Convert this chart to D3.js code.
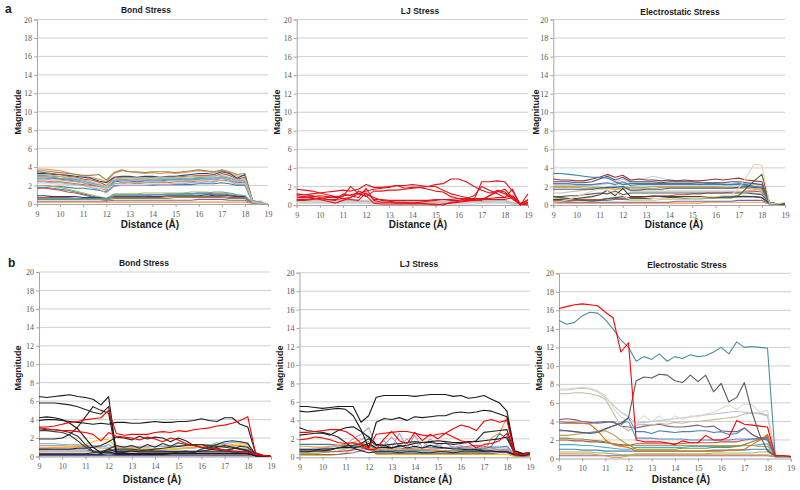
<!DOCTYPE html>
<html><head><meta charset="utf-8">
<script src="https://cdn.jsdelivr.net/npm/d3@7"></script>
<style>body{margin:0;background:#fff} svg{display:block}</style>
</head><body><svg id="c" width="800" height="490"></svg>
<script>
// distance samples (Å)
const distance = [9,9.33,9.67,10,10.33,10.67,11,11.33,11.67,12,12.33,12.67,13,13.33,13.67,14,14.33,14.67,15,15.33,15.67,16,16.33,16.67,17,17.33,17.67,18,18.33,18.67,19];
const xTicks = [9,10,11,12,13,14,15,16,17,18,19];
const yTicks = [0,2,4,6,8,10,12,14,16,18,20];

// ---- panel a: Bond Stress ----
const bondA = [
 [3.8,3.8,3.7,3.6,3.4,3.2,3.0,2.9,2.7,2.4, 3.3,3.6,3.5,3.4,3.3,3.4,3.3,3.4,3.3,3.4, 3.5,3.6,3.5,3.4,3.6,3.4,3.0,3.1,0.4,0.1,0],
 [3.3,3.3,3.2,3.2,3.1,3.0,2.9,2.8,2.5,2.3, 2.9,3.0,3.0,2.9,3.0,3.0,2.9,3.0,3.0,3.1, 3.2,3.3,3.3,3.2,3.5,3.3,2.8,3.2,0.3,0.1,0],
 [3.5,3.4,3.3,3.2,3.0,2.9,2.7,2.6,2.4,2.0, 2.8,2.9,2.9,2.8,2.8,2.9,2.8,2.9,2.9,3.0, 3.0,3.1,3.1,3.0,3.3,3.1,2.7,2.9,0.3,0.05,0],
 [3.0,3.0,2.9,2.8,2.7,2.6,2.5,2.3,2.1,1.8, 2.6,2.7,2.6,2.6,2.6,2.7,2.7,2.7,2.7,2.8, 2.8,2.9,2.8,2.8,3.0,2.8,2.5,2.6,0.3,0.05,0],
 [2.8,2.8,2.8,2.7,2.6,2.5,2.3,2.1,1.9,1.6, 2.4,2.5,2.5,2.4,2.5,2.5,2.5,2.6,2.6,2.6, 2.6,2.7,2.7,2.6,2.8,2.6,2.3,2.4,0.2,0.05,0],
 [3.1,3.1,3.0,3.0,2.8,2.7,2.5,2.3,2.0,1.5, 2.5,2.6,2.6,2.6,2.6,2.6,2.6,2.7,2.7,2.7, 2.7,2.8,2.8,2.8,2.9,2.8,2.6,2.7,0.2,0.05,0],
 [2.5,2.5,2.4,2.4,2.3,2.2,2.1,2.0,1.8,1.5, 2.2,2.3,2.3,2.2,2.3,2.3,2.3,2.3,2.4,2.4, 2.4,2.5,2.5,2.4,2.6,2.5,2.2,2.2,0.2,0.05,0],
 [2.7,2.7,2.6,2.6,2.5,2.4,2.3,2.2,2.0,1.7, 2.2,2.2,2.3,2.3,2.3,2.4,2.4,2.5,2.5,2.5, 2.6,2.6,2.7,2.7,2.8,2.6,2.4,2.5,0.2,0.3,0],
 [2.2,2.2,2.2,2.1,2.1,2.0,2.0,1.9,1.8,1.6, 2.0,2.1,2.1,2.1,2.1,2.2,2.2,2.2,2.3,2.3, 2.3,2.4,2.4,2.5,2.5,2.4,2.2,2.2,0.2,0.4,0],
 [2.0,2.0,1.9,1.9,1.8,1.7,1.7,1.6,1.5,1.3, 2.0,2.0,2.0,2.0,2.0,2.0,2.1,2.1,2.1,2.1, 2.1,2.2,2.2,2.2,2.3,2.2,2.0,2.0,0.2,0.05,0],
 [1.8,1.8,1.7,1.6,1.5,1.3,1.1,0.9,0.7,0.5, 1.0,1.0,1.0,1.0,1.0,1.0,1.0,1.1,1.1,1.1, 1.1,1.1,1.1,1.0,1.0,0.9,0.8,0.7,0.1,0.05,0],
 [1.7,1.7,1.6,1.5,1.3,1.2,1.0,0.8,0.6,0.4, 0.9,0.9,0.9,0.9,0.9,1.0,1.0,1.0,1.0,1.1, 1.1,1.2,1.2,1.1,1.1,1.0,0.9,0.8,0.1,0.05,0],
 [2.0,2.0,1.9,1.8,1.6,1.4,1.2,1.0,0.8,0.6, 1.1,1.1,1.1,1.1,1.2,1.2,1.2,1.2,1.2,1.2, 1.3,1.3,1.3,1.2,1.2,1.1,1.0,0.9,0.1,0.05,0],
 [0.9,0.9,0.8,0.8,0.8,0.8,0.7,0.7,0.7,0.6, 0.8,0.8,0.8,0.8,0.8,0.8,0.8,0.9,0.9,0.9, 0.9,0.9,1.0,0.9,0.9,0.9,0.8,0.8,0.1,0.05,0],
 [0.7,0.7,0.7,0.7,0.7,0.6,0.6,0.6,0.6,0.6, 0.7,0.7,0.7,0.7,0.7,0.7,0.7,0.8,0.8,0.8, 0.8,0.8,0.8,0.8,0.8,0.7,0.7,0.7,0.1,0.05,0],
 [0.5,0.5,0.5,0.5,0.5,0.5,0.5,0.5,0.5,0.4, 0.6,0.6,0.6,0.6,0.6,0.6,0.6,0.6,0.7,0.7, 0.7,0.7,0.7,0.7,0.7,0.6,0.6,0.6,0.1,0.05,0],
 [0.3,0.3,0.3,0.3,0.3,0.3,0.3,0.3,0.3,0.3, 0.4,0.4,0.4,0.4,0.4,0.4,0.4,0.4,0.4,0.4, 0.4,0.5,0.5,0.5,0.5,0.4,0.4,0.4,0.05,0.05,0],
 [0.2,0.2,0.2,0.2,0.2,0.2,0.2,0.2,0.2,0.2, 0.2,0.2,0.2,0.2,0.2,0.2,0.2,0.2,0.2,0.2, 0.2,0.2,0.2,0.2,0.2,0.2,0.2,0.2,0.05,0.05,0],
 [0.6,0.6,0.6,0.6,0.6,0.6,0.5,0.5,0.5,0.5, 0.9,0.9,0.9,0.9,0.9,1.0,1.0,1.0,1.0,1.1, 1.1,1.2,1.2,1.3,1.3,1.2,1.0,0.9,0.1,0.05,0],
 [3.6,3.6,3.5,3.4,3.3,3.2,3.1,3.1,3.2,2.6, 3.4,3.7,3.5,3.5,3.4,3.5,3.5,3.5,3.4,3.5, 3.6,3.7,3.6,3.5,3.7,3.5,3.2,3.3,0.4,0.1,0],
 [2.4,2.4,2.3,2.3,2.2,2.1,2.0,1.8,1.6,1.2, 1.9,2.0,2.0,2.0,2.0,2.1,2.1,2.1,2.2,2.2, 2.3,2.3,2.4,2.4,2.9,2.5,2.1,2.1,0.2,0.05,0],
 [3.2,3.2,3.1,3.0,2.9,2.8,2.6,2.4,2.2,1.9, 2.7,2.8,2.8,2.8,2.8,2.8,2.9,2.9,2.9,2.9, 3.0,3.0,3.0,3.0,3.1,2.9,2.6,2.7,0.3,0.05,0]
];
const bondAColors = ["#F79646","#1F497D","#C0504D","#9BBB59","#8064A2","#4BACC6","#E46C0A","#95B3D7","#D9D9D9","#31859C","#4F81BD","#C0504D","#9BBB59","#1F497D","#C0504D","#77933C","#8064A2","#F79646","#4BACC6","#948A54","#B3A2C7","#C4BD97"];

// ---- panel a: LJ Stress ----
const ljA = [
 [0.5,0.5,0.5,0.5,0.5,0.5,0.5,0.5,0.5,0.5, 0.4,0.4,0.4,0.4,0.4,0.4,0.4,0.4,0.4,0.4, 0.4,0.4,0.5,0.5,0.5,0.5,0.5,0.5,0.3,0.1,0.2],
 [0.4,0.4,0.4,0.4,0.4,0.4,0.4,0.4,0.4,0.4, 0.3,0.3,0.3,0.3,0.3,0.3,0.3,0.3,0.3,0.3, 0.3,0.3,0.3,0.3,0.4,0.4,0.4,0.4,0.2,0.1,0.1],
 [0.3,0.3,0.3,0.3,0.3,0.3,0.3,0.3,0.3,0.3, 0.2,0.2,0.2,0.2,0.2,0.2,0.2,0.2,0.2,0.2, 0.2,0.2,0.2,0.3,0.3,0.3,0.3,0.3,0.1,0.1,0.1],
 [0.6,0.6,0.6,0.6,0.6,0.5,0.5,0.5,0.4,0.4, 0.3,0.3,0.3,0.3,0.3,0.3,0.3,0.3,0.3,0.3, 0.3,0.3,0.4,0.4,0.4,0.4,0.5,0.5,0.2,0.1,0.1],
 [0.2,0.2,0.2,0.2,0.2,0.2,0.2,0.2,0.2,0.2, 0.1,0.1,0.1,0.1,0.1,0.1,0.1,0.1,0.1,0.1, 0.1,0.1,0.1,0.1,0.2,0.2,0.2,0.2,0.1,0.0,0.1],
 [1.7,1.6,1.5,1.3,1.1,0.9,0.7,0.8,1.2,1.0, 0.2,0.1,0.1,0.1,0.1,0.1,0.1,0.1,0.1,0.0, 0.3,0.4,0.5,0.5,0.6,0.6,0.6,0.6,0.8,0.1,0.2],
 [1.1,1.1,1.2,1.3,1.4,1.5,1.6,1.5,1.7,2.2, 1.9,1.9,2.0,2.1,2.1,2.2,2.1,2.0,2.2,2.3, 2.8,2.8,2.5,2.0,1.6,1.3,1.5,1.2,0.9,0.1,0.3],
 [0.8,0.8,0.9,1.0,0.9,0.8,0.9,2.0,1.2,1.5, 1.7,1.8,1.9,2.1,1.8,1.9,1.9,1.7,1.5,1.4, 0.9,0.7,0.6,0.6,2.5,2.5,2.6,2.5,1.5,0.0,1.2],
 [1.2,1.1,1.0,0.8,0.6,0.5,1.2,1.0,0.8,1.8, 0.5,0.3,0.3,0.2,0.2,0.2,0.3,0.4,0.5,0.6, 0.5,0.5,0.7,1.0,2.0,1.6,1.2,0.8,1.0,0.2,0.5],
 [0.5,0.5,0.6,0.7,0.8,0.9,1.0,1.1,1.3,0.9, 1.5,1.5,1.6,1.6,1.7,1.8,1.9,2.0,2.0,1.6, 1.2,1.0,0.8,0.6,0.5,1.0,1.6,1.4,0.6,0.1,0.0],
 [1.0,0.9,0.8,0.6,0.4,0.2,0.5,0.8,1.5,1.2, 0.8,0.5,0.4,0.3,0.3,0.2,0.2,0.1,0.0,0.1, 0.2,0.3,0.4,0.5,0.6,1.0,1.4,1.7,0.8,0.0,0.2],
 [0.6,0.6,0.7,0.7,0.6,0.6,0.7,0.6,0.5,1.3, 0.6,0.6,0.5,0.5,0.5,0.5,0.5,0.5,0.6,0.6, 0.6,0.7,0.7,0.7,0.7,0.7,0.8,0.8,1.7,0.0,0.6]
];
const ljAColors = ["#C8C8C8","#BFBFBF","#D0D0D0","#B8B8B8","#CCCCCC","#E3141B","#E3141B","#E3141B","#E3141B","#E3141B","#E3141B","#E3141B"];

// ---- panel a: Electrostatic Stress ----
const elecA = [
 [0.2,0.2,0.2,0.2,0.2,0.2,0.2,0.2,0.2,0.2, 0.2,0.2,0.2,0.2,0.2,0.2,0.2,0.2,0.2,0.2, 0.3,0.3,0.3,0.3,0.3,0.3,0.3,0.3,0.1,0.1,0.1],
 [0.3,0.3,0.3,0.3,0.3,0.3,0.3,0.3,0.3,0.3, 0.3,0.3,0.3,0.3,0.3,0.3,0.4,0.4,0.4,0.4, 0.4,0.4,0.4,0.4,0.5,0.5,0.5,0.5,0.1,0.1,0.1],
 [0.7,0.7,0.6,0.6,0.6,0.6,0.6,0.6,0.6,0.6, 0.5,0.5,0.5,0.5,0.6,0.6,0.6,0.6,0.6,0.6, 0.7,0.7,0.7,0.7,1.1,1.0,0.9,0.8,0.1,0.1,0.1],
 [0.4,0.4,0.4,0.5,0.5,0.5,0.5,0.5,0.6,0.6, 0.6,0.6,0.6,0.7,0.7,0.7,0.7,0.7,0.8,0.8, 0.8,0.8,0.8,0.8,0.9,0.9,0.9,0.8,0.1,0.1,0.1],
 [0.5,0.5,0.5,0.5,0.6,0.6,0.6,0.7,0.7,0.7, 0.8,0.8,0.9,0.9,1.0,1.0,1.1,1.1,1.2,1.2, 1.3,1.3,1.3,1.4,1.4,1.5,1.5,1.4,0.2,0.1,0.1],
 [1.3,1.3,1.4,1.5,1.6,1.7,1.8,1.9,2.0,2.0, 1.5,1.5,1.5,1.5,1.5,1.5,1.5,1.5,1.5,1.5, 1.5,1.5,1.5,1.5,1.5,1.4,1.3,1.2,0.2,0.1,0.3],
 [0.9,0.9,1.0,1.0,1.1,1.2,1.3,1.2,1.5,1.1, 1.3,1.3,1.3,1.3,1.3,1.3,1.3,1.3,1.3,1.3, 1.3,1.3,1.3,1.3,1.3,1.3,1.2,1.1,0.2,0.1,0.1],
 [2.1,2.1,2.1,2.1,2.1,2.2,2.2,2.3,2.4,2.8, 2.4,2.4,2.4,2.4,2.4,2.4,2.4,2.4,2.4,2.3, 2.3,2.3,2.3,2.3,2.4,2.3,2.2,2.0,0.2,0.1,0.1],
 [2.2,2.2,2.2,2.1,2.1,2.1,2.0,2.0,2.1,2.3, 2.6,2.8,2.9,3.1,2.9,2.7,2.6,2.5,2.4,2.4, 2.4,2.4,2.4,2.3,2.3,2.2,2.0,1.8,0.3,0.1,0.1],
 [2.0,2.0,2.0,2.0,2.0,1.9,1.9,1.8,1.7,1.9, 1.9,1.9,1.9,2.0,2.0,2.0,2.0,2.0,2.0,2.0, 2.0,2.0,1.9,1.9,1.9,1.9,1.8,1.7,0.2,0.1,0.1],
 [1.9,1.9,1.9,1.9,1.8,1.8,1.8,1.8,1.7,1.7, 1.8,1.8,1.8,1.8,1.9,1.9,1.9,1.9,1.9,1.9, 1.9,1.9,1.9,1.8,1.8,1.8,1.7,1.6,0.2,0.1,0.1],
 [1.7,1.7,1.7,1.7,1.7,1.7,1.8,1.9,1.9,2.0, 1.6,1.6,1.7,1.7,1.7,1.8,1.8,1.8,1.8,1.8, 1.8,1.8,1.8,1.8,1.9,2.0,1.9,1.9,0.2,0.1,0.1],
 [2.3,2.3,2.3,2.2,2.2,2.2,2.3,2.4,2.2,2.5, 2.1,2.2,2.2,2.2,2.2,2.2,2.2,2.2,2.2,2.2, 2.2,2.2,2.2,2.2,2.3,2.2,2.0,1.9,0.3,0.1,0.1],
 [2.5,2.5,2.5,2.4,2.4,2.5,2.8,3.1,2.7,3.0, 2.5,2.5,2.5,2.5,2.4,2.5,2.5,2.5,2.5,2.4, 2.4,2.4,2.4,2.5,2.5,2.4,2.3,2.2,0.3,0.1,0.1],
 [2.8,2.7,2.7,2.6,2.6,2.8,3.0,3.3,3.0,3.2, 2.7,2.8,2.7,2.7,2.6,2.7,2.6,2.7,2.6,2.6, 2.7,2.8,2.7,2.8,2.9,2.7,2.6,2.5,0.3,0.1,0.1],
 [3.4,3.4,3.3,3.2,3.1,3.0,3.0,2.9,2.5,2.2, 2.3,2.3,2.3,2.3,2.3,2.3,2.3,2.3,2.3,2.2, 2.3,2.3,2.2,2.2,2.2,2.1,2.0,1.8,0.3,0.1,0.1],
 [0.6,0.6,0.7,0.7,0.8,0.9,1.1,1.6,1.0,1.8, 0.9,0.9,0.9,1.0,0.9,0.9,0.9,0.9,0.9,0.9, 0.9,0.9,0.9,0.9,0.9,0.9,0.9,0.8,0.2,0.1,0.1],
 [0.9,0.8,0.7,0.6,0.5,0.4,0.5,0.7,0.8,0.9, 0.7,0.7,0.7,0.7,0.7,0.8,0.8,0.8,0.8,0.8, 0.8,0.8,0.9,0.9,1.0,1.8,2.6,3.3,0.3,0.1,0.1],
 [0.3,0.4,0.6,0.9,1.2,1.5,1.7,1.6,1.3,1.0, 0.6,0.6,0.6,0.7,0.7,0.7,0.7,0.8,0.8,0.8, 0.9,0.9,1.0,1.0,1.8,3.0,4.4,4.3,0.2,0.1,0.3]
];
const elecAColors = ["#F79646","#8064A2","#C3D69B","#4F81BD","#C0504D","#BFBFBF","#595959","#E6B9B8","#B7DEE8","#9BBB59","#F79646","#376092","#4F81BD","#5F497A","#953735","#31859C","#404040","#4F6228","#E8D5B0"];

// ---- panel b: Bond Stress ----
const bondB = [
 [0.1,0.1,0.1,0.1,0.1,0.1,0.1,0.1,0.1,0.1, 0.1,0.1,0.1,0.1,0.1,0.1,0.1,0.1,0.1,0.1, 0.1,0.1,0.1,0.1,0.1,0.1,0.1,0.1,0.05,0.05,0],
 [0.3,0.3,0.3,0.3,0.3,0.3,0.3,0.3,0.3,0.3, 0.3,0.3,0.3,0.3,0.3,0.3,0.3,0.3,0.3,0.3, 0.3,0.3,0.3,0.3,0.3,0.3,0.3,0.3,0.1,0.1,0],
 [0.5,0.5,0.5,0.5,0.5,0.5,0.5,0.5,0.5,0.5, 0.4,0.4,0.4,0.4,0.4,0.4,0.4,0.5,0.5,0.5, 0.5,0.5,0.5,0.5,0.5,0.5,0.5,0.5,0.1,0.1,0],
 [0.7,0.7,0.7,0.7,0.7,0.7,0.7,0.6,0.6,0.6, 0.6,0.6,0.6,0.6,0.6,0.6,0.6,0.6,0.6,0.6, 0.6,0.6,0.6,0.6,0.6,0.6,0.6,0.6,0.1,0.1,0],
 [1.2,1.2,1.2,1.2,1.1,1.1,1.1,1.0,1.0,1.3, 0.8,0.8,0.8,0.8,0.8,0.8,0.8,0.8,0.8,0.9, 0.9,1.0,1.2,1.5,1.3,1.1,0.9,0.8,0.2,0.1,0],
 [0.9,0.9,1.0,1.0,1.1,1.2,1.3,1.6,1.9,1.8, 1.0,0.9,0.8,0.8,0.8,0.8,0.8,0.8,0.9,0.9, 1.0,1.0,1.1,1.2,1.2,1.3,1.4,1.3,0.2,0.1,0],
 [1.0,1.0,1.0,1.0,1.0,1.0,1.0,1.0,0.9,0.9, 1.0,1.0,1.0,1.0,1.0,1.1,1.1,1.1,1.1,1.0, 1.0,1.0,1.1,1.1,1.1,1.2,1.2,1.1,0.2,0.1,0],
 [1.4,1.4,1.4,1.3,1.3,1.3,1.2,1.2,1.1,1.0, 1.1,1.1,1.1,1.1,1.1,1.1,1.1,1.2,1.2,1.2, 1.2,1.3,1.3,1.3,1.4,1.5,1.6,1.5,0.2,0.1,0],
 [0.2,0.2,0.2,0.2,0.2,0.2,0.2,0.2,0.2,0.3, 0.2,0.2,0.2,0.2,0.2,0.2,0.2,0.3,0.5,0.6, 0.4,0.8,1.0,1.3,1.6,1.7,1.6,1.4,0.2,0.1,0],
 [0.3,0.3,0.3,0.3,0.3,0.3,0.3,0.4,0.5,0.8, 1.2,1.0,1.2,0.9,1.3,1.0,1.4,1.1,1.5,1.3, 1.2,1.3,1.0,0.9,0.7,0.8,1.1,1.0,0.2,0.1,0],
 [0.8,0.8,0.8,0.8,0.8,0.9,0.9,1.0,1.2,1.6, 2.1,2.0,1.8,2.2,1.9,2.1,2.0,1.6,2.0,1.7, 1.2,1.0,0.8,0.7,0.6,0.5,0.4,0.3,0.1,0.1,0],
 [2.8,2.8,2.7,2.6,2.3,1.7,1.0,0.5,0.4,0.6, 0.8,0.8,0.8,0.7,0.7,0.6,0.6,0.5,0.5,0.5, 0.5,0.5,0.5,0.5,0.5,0.5,0.5,0.5,0.1,0.1,0],
 [3.0,2.9,2.9,2.8,2.6,2.2,1.3,0.6,0.3,0.8, 0.5,0.5,0.6,0.6,0.7,0.8,0.9,1.0,1.1,1.2, 1.3,1.3,1.2,1.1,1.0,0.9,0.8,0.7,0.1,0.1,0],
 [1.9,1.9,1.9,2.0,2.4,3.2,4.3,5.4,5.0,4.7, 0.3,0.3,0.3,0.3,0.3,0.3,0.3,0.3,0.3,0.3, 0.3,0.3,0.3,0.3,0.3,0.3,0.3,0.3,0.1,0.1,0],
 [4.2,4.3,4.2,4.0,3.6,3.0,2.0,1.0,0.4,0.5, 0.3,0.3,0.3,0.3,0.3,0.3,0.3,0.3,0.3,0.3, 0.3,0.3,0.3,0.3,0.3,0.3,0.3,0.3,0.1,0.1,0],
 [5.8,5.8,5.8,5.7,5.6,5.4,5.1,4.8,4.6,5.4, 0.6,0.6,0.6,0.5,0.5,0.5,0.5,0.5,0.5,0.5, 0.5,0.6,0.7,1.0,1.2,1.0,0.8,0.6,0.1,0.1,0],
 [6.5,6.4,6.5,6.6,6.7,6.5,6.4,6.2,5.6,6.5, 0.4,0.4,0.3,0.3,0.3,0.3,0.3,0.3,0.3,0.3, 0.3,0.3,0.3,0.3,0.3,0.3,0.3,0.3,0.1,0.1,0],
 [3.9,4.0,4.0,3.9,3.8,3.7,3.6,3.5,3.6,3.5, 3.7,3.7,3.6,3.6,3.7,3.8,3.7,3.7,3.8,3.8, 3.9,4.1,3.9,3.8,4.2,4.2,3.5,3.2,0.4,0.1,0],
 [3.1,3.0,2.9,2.8,2.8,2.7,2.6,2.4,1.7,2.6, 2.2,2.1,2.0,1.8,2.1,1.9,1.6,2.0,1.8,1.4, 1.2,1.0,0.9,0.8,0.7,0.6,0.5,0.5,0.2,0.1,0],
 [3.2,3.2,3.3,3.5,3.7,3.8,4.0,4.1,4.2,5.0, 2.5,2.3,2.4,2.4,2.4,2.6,2.7,2.6,2.8,2.7, 2.9,3.0,3.1,3.3,3.4,3.6,3.9,4.3,0.4,0.1,0]
];
const bondBColors = ["#8064A2","#9BBB59","#D99694","#4F81BD","#A6A6A6","#FFC000","#F79646","#8EB4E3","#17375E","#333333","#262626","#404040","#333333","#262626","#1A1A1A","#262626","#1A1A1A","#1A1A1A","#FF0000","#FF0000"];

// ---- panel b: LJ Stress ----
const ljB = [
 [0.2,0.2,0.2,0.2,0.2,0.3,0.5,0.9,1.5,1.2, 0.3,0.3,0.3,0.3,0.3,0.3,0.3,0.3,0.3,0.3, 0.3,0.3,0.3,0.3,0.3,0.3,0.3,0.3,0.1,0.1,0.1],
 [0.3,0.3,0.3,0.3,0.3,0.3,0.4,0.5,0.7,0.9, 0.4,0.4,0.4,0.4,0.4,0.4,0.4,0.4,0.4,0.4, 0.4,0.4,0.4,0.4,0.4,0.4,0.5,0.5,0.2,0.1,0.2],
 [0.4,0.4,0.4,0.5,0.6,0.7,0.9,1.2,1.4,1.7, 0.5,0.5,0.5,0.5,0.5,0.5,0.5,0.5,0.5,0.5, 0.5,0.5,0.5,0.5,0.5,0.6,0.7,0.8,0.2,0.2,0.2],
 [0.6,0.6,0.6,0.6,0.6,0.6,0.7,0.8,0.9,1.1, 0.6,0.6,0.7,0.7,0.8,0.8,0.8,0.9,0.9,1.0, 1.0,1.1,1.2,1.3,1.2,1.0,0.8,0.8,0.2,0.2,0.2],
 [0.9,0.9,0.9,0.9,0.9,1.0,1.0,1.1,1.2,1.3, 0.9,0.9,1.0,1.0,0.9,1.0,1.0,1.1,1.0,1.0, 1.0,1.0,1.0,0.9,1.0,1.1,1.1,1.2,0.3,0.2,0.2],
 [0.5,0.5,0.6,0.7,0.8,1.0,1.3,1.6,1.9,2.3, 0.9,1.3,2.2,1.2,2.0,1.0,1.7,1.0,1.4,0.9, 1.2,0.8,1.0,0.8,0.9,0.8,0.8,0.8,0.3,0.2,0.2],
 [0.8,0.8,0.9,1.0,1.1,1.2,1.4,2.0,2.5,3.2, 1.2,1.8,1.0,2.6,1.0,2.4,1.0,2.0,1.2,1.6, 1.0,1.3,1.0,1.2,1.0,1.0,1.0,1.0,0.3,0.2,0.3],
 [1.4,1.4,1.4,1.4,1.4,1.3,1.3,1.2,1.1,0.9, 0.8,0.7,0.7,0.7,0.7,0.7,0.7,0.7,0.7,0.7, 0.7,0.7,0.8,0.8,0.9,1.2,2.6,2.0,0.4,0.3,0.3],
 [1.2,1.2,1.1,1.1,1.2,1.3,1.4,1.5,1.2,1.0, 0.8,0.9,0.8,0.9,0.8,0.9,0.8,0.8,0.7,0.7, 0.6,0.6,0.5,0.5,0.6,2.1,2.6,4.3,0.5,0.3,0.4],
 [0.8,0.8,0.8,0.9,0.9,1.0,1.1,1.0,1.2,1.5, 1.0,1.1,1.0,1.2,1.3,1.5,1.6,1.7,1.8,1.7, 1.6,1.6,1.7,1.7,1.8,1.9,2.0,2.2,0.4,0.3,0.3],
 [0.6,0.6,0.7,0.7,0.8,1.0,1.2,1.3,1.5,2.0, 1.3,1.3,1.4,1.5,1.6,1.7,1.6,1.6,1.5,1.5, 1.4,1.5,1.6,1.8,2.7,2.8,2.9,3.0,0.5,0.3,0.4],
 [2.4,2.5,2.6,2.6,2.4,2.9,3.2,3.3,2.8,2.2, 1.4,1.3,1.0,1.3,1.0,1.2,1.0,1.3,1.1,1.0, 0.9,0.9,0.8,0.8,0.7,0.7,0.6,0.6,0.3,0.2,0.3],
 [3.2,2.9,2.8,2.7,2.5,2.2,1.6,1.0,0.7,0.5, 0.6,0.6,0.6,0.5,0.6,0.6,0.5,0.5,0.6,0.6, 0.5,0.6,0.6,0.6,0.6,0.6,0.6,0.6,0.3,0.2,0.3],
 [5.0,4.9,5.0,5.1,5.2,5.3,5.2,4.5,3.0,1.0, 3.8,4.2,4.1,4.3,4.0,4.4,4.3,4.4,4.5,4.5, 4.8,4.9,4.8,4.9,5.1,5.0,4.7,4.4,0.7,0.4,0.5],
 [5.5,5.5,5.4,5.3,5.4,5.5,5.5,5.5,3.8,4.5, 6.5,6.7,6.7,6.7,6.7,6.6,6.7,6.8,6.8,6.8, 6.6,6.7,6.4,6.5,6.7,6.3,5.9,5.0,0.7,0.4,0.5],
 [1.9,2.0,2.2,2.1,1.9,1.6,1.5,1.6,1.3,0.8, 0.9,2.0,2.8,1.8,1.5,2.7,1.8,2.5,2.0,2.6, 2.2,1.8,1.6,1.0,1.4,1.5,1.8,2.6,0.4,0.3,0.4],
 [2.7,2.7,2.8,2.9,3.0,3.0,2.8,2.3,1.5,1.0, 2.5,2.6,2.7,2.8,2.8,2.6,2.4,2.3,2.5,2.6, 3.1,3.5,3.3,2.9,3.9,4.1,3.8,4.0,0.5,0.3,0.5]
];
const ljBColors = ["#FFC000","#8064A2","#9BBB59","#C0504D","#4F81BD","#A6A6A6","#B3A2C7","#31859C","#F79646","#1A1A1A","#262626","#1A1A1A","#262626","#1A1A1A","#1A1A1A","#FF0000","#FF0000"];

// ---- panel b: Electrostatic Stress ----
const elecB = [
 [0.3,0.3,0.3,0.3,0.3,0.3,0.3,0.3,0.3,0.3, 0.3,0.3,0.3,0.3,0.3,0.3,0.3,0.3,0.3,0.3, 0.3,0.3,0.3,0.3,0.3,0.3,0.3,0.3,0.2,0.2,0.2],
 [0.5,0.5,0.5,0.5,0.5,0.4,0.3,0.1,0.1,0.3, 0.4,0.4,0.4,0.4,0.4,0.4,0.4,0.4,0.4,0.4, 0.4,0.4,0.4,0.4,0.4,0.4,0.4,0.4,0.2,0.2,0.2],
 [0.7,0.7,0.7,0.7,0.7,0.6,0.6,0.5,0.4,0.4, 0.5,0.5,0.5,0.5,0.5,0.5,0.5,0.5,0.5,0.5, 0.6,0.6,0.6,0.6,0.6,0.6,0.7,0.7,0.2,0.2,0.2],
 [1.0,1.0,1.0,0.9,0.9,0.9,0.8,0.8,0.8,0.8, 0.8,0.8,0.8,0.8,0.8,0.8,0.8,0.8,0.8,0.8, 0.9,0.9,0.9,0.9,0.9,1.0,1.0,1.0,0.2,0.2,0.2],
 [1.5,1.5,1.5,1.4,1.4,1.3,1.2,1.1,1.0,1.0, 1.2,1.2,1.2,1.2,1.2,1.2,1.2,1.3,1.3,1.3, 1.3,1.3,1.3,1.3,1.4,1.4,1.5,1.6,0.3,0.3,0.2],
 [2.0,2.0,1.9,1.9,1.8,1.8,1.7,1.6,1.5,1.4, 1.6,1.6,1.6,1.6,1.6,1.6,1.6,1.7,1.7,1.7, 1.7,1.8,1.8,1.8,2.0,2.1,2.2,2.3,0.3,0.3,0.2],
 [2.5,2.5,2.6,2.7,2.8,2.9,3.0,2.6,2.0,1.4, 1.4,1.4,1.4,1.4,1.4,1.4,1.4,1.4,1.4,1.4, 1.4,1.4,1.4,1.4,1.4,1.4,1.3,1.3,0.3,0.3,0.2],
 [2.2,2.2,2.1,2.1,2.0,1.9,1.8,1.6,1.4,1.5, 1.0,1.0,1.0,1.0,1.0,1.0,1.1,1.1,1.1,1.1, 1.2,1.2,1.2,1.3,1.5,1.8,2.1,2.4,0.3,0.3,0.2],
 [3.1,3.0,2.9,2.8,2.8,2.9,3.2,3.5,3.8,4.0, 2.2,2.2,2.2,2.1,2.1,2.1,2.1,2.0,2.0,2.0, 2.0,2.0,2.0,2.1,2.1,2.1,2.1,2.2,0.3,0.3,0.2],
 [3.8,3.8,3.8,3.8,3.8,3.9,4.0,3.9,3.6,4.4, 2.9,2.9,2.7,3.0,2.9,2.8,2.9,2.9,3.0,3.0, 2.8,2.9,2.6,2.7,3.3,2.6,2.2,2.0,0.3,0.3,0.2],
 [4.0,3.9,3.9,3.8,3.7,3.0,2.0,1.5,1.3,1.2, 0.8,0.8,0.8,0.8,0.8,0.8,0.8,0.8,0.8,0.8, 0.8,0.8,0.9,0.9,1.0,1.5,2.0,2.6,0.3,0.3,0.2],
 [4.2,4.3,4.2,4.0,3.9,3.8,3.9,4.0,3.5,3.4, 3.3,3.5,3.6,3.7,3.5,3.4,3.4,3.5,3.6,3.4, 3.5,3.0,2.9,2.9,3.3,2.6,2.2,2.0,0.3,0.3,0.2],
 [7.0,7.0,7.1,7.1,7.0,6.8,6.4,5.0,3.5,3.0, 3.6,3.7,3.6,3.8,3.7,3.9,3.8,4.0,4.0,4.1, 4.2,4.3,4.4,4.5,4.8,4.9,4.9,4.7,0.4,0.3,0.3],
 [7.4,7.4,7.5,7.6,7.5,7.2,6.6,5.8,5.0,4.5, 3.8,3.9,4.0,4.1,4.2,4.3,4.4,4.5,4.6,4.7, 4.8,4.9,5.0,5.1,5.0,4.9,4.8,4.6,0.4,0.3,0.3],
 [7.5,7.5,7.6,7.7,7.6,7.3,6.8,5.5,4.5,4.0, 3.9,4.6,4.0,4.6,3.9,4.6,4.2,4.6,4.5,4.8, 5.0,5.4,5.8,5.3,5.9,5.8,5.0,5.2,0.4,0.3,0.3],
 [3.0,3.0,2.9,2.8,2.7,2.8,3.2,3.5,3.8,4.4, 8.4,8.8,8.7,9.1,9.0,8.4,8.2,9.0,8.3,9.0, 7.2,8.1,6.1,6.6,8.2,5.0,2.5,0.8,0.3,0.3,0.2],
 [14.9,14.5,14.7,15.4,15.8,15.7,15.0,14.0,12.8,12.0, 10.5,11.0,10.7,11.3,10.5,11.0,10.8,11.2,11.0,11.1, 11.5,12.0,11.3,12.6,12.0,12.1,12.0,11.9,0.3,0.3,0.2],
 [16.2,16.4,16.6,16.7,16.6,16.5,15.8,15.2,11.5,12.5, 2.0,1.8,1.8,1.8,1.7,1.5,1.9,1.7,1.7,2.5, 2.0,2.0,2.3,4.1,3.7,3.6,3.5,3.4,0.3,0.3,0.2]
];
const elecBColors = ["#8064A2","#F79646","#9BBB59","#4F81BD","#4BACC6","#C0504D","#C09A50","#77933C","#558ED5","#4F81BD","#E46C0A","#7F6084","#C4BD97","#B9C4DC","#DDD9D0","#595959","#4A8DA8","#FF0000"];

const panels = [
 {label:"a", lx:5, ly:13, title:"Bond Stress", data:bondA, colors:bondAColors, x0:37, x1:268, yT:19.5, yB:204, tx:146, ty:13, mx:18, my:112, dx:150, dy:228},
 {title:"LJ Stress", data:ljA, colors:ljAColors, x0:296.7, x1:528, yT:19.5, yB:205, tx:420, ty:13.5, mx:277, my:112, dx:418, dy:228},
 {title:"Electrostatic Stress", data:elecA, colors:elecAColors, x0:553.3, x1:785, yT:19.5, yB:205, tx:680, ty:14.5, mx:536, my:112, dx:674, dy:228},
 {label:"b", lx:8, ly:267, title:"Bond Stress", data:bondB, colors:bondBColors, x0:39, x1:271, yT:272, yB:456.5, tx:144, ty:266, mx:18, my:368, dx:152, dy:483},
 {title:"LJ Stress", data:ljB, colors:ljBColors, x0:299.5, x1:530, yT:272.7, yB:457.3, tx:419, ty:267, mx:280, my:368, dx:423, dy:483},
 {title:"Electrostatic Stress", data:elecB, colors:elecBColors, x0:559, x1:790.7, yT:273.3, yB:458.5, tx:687, ty:268, mx:539, my:368, dx:681, dy:483}
];

const svg = d3.select("#c");
const tickFont = "'Liberation Serif', 'DejaVu Serif', serif";
const sansFont = "'Liberation Sans', Arial, sans-serif";

panels.forEach(p => {
  const x = d3.scaleLinear().domain([9,19]).range([p.x0,p.x1]);
  const y = d3.scaleLinear().domain([0,20]).range([p.yB,p.yT]);
  const g = svg.append("g");

  g.append("g").selectAll("line").data(yTicks.filter(t => t > 0)).join("line")
    .attr("x1", p.x0).attr("x2", p.x1)
    .attr("y1", d => y(d)).attr("y2", d => y(d))
    .attr("stroke", "#CFCFCF").attr("stroke-width", 1);

  const ya = g.append("g").attr("transform", `translate(${p.x0},0)`)
    .call(d3.axisLeft(y).tickValues(yTicks).tickSize(3).tickPadding(2).tickFormat(d3.format("d")));
  const xa = g.append("g").attr("transform", `translate(0,${p.yB})`)
    .call(d3.axisBottom(x).tickValues(xTicks).tickSize(3).tickPadding(4).tickFormat(d3.format("d")));
  [ya, xa].forEach(a => {
    a.select(".domain").attr("stroke", "#A6A6A6");
    a.selectAll(".tick line").attr("stroke", "#A6A6A6");
    a.selectAll(".tick text").attr("fill", "#595959").style("font-family", tickFont).style("font-size", "8px");
  });

  const line = d3.line().defined(d => d != null).x((d, i) => x(distance[i])).y(d => y(d));
  g.append("g").selectAll("path").data(p.data).join("path")
    .attr("d", line).attr("fill", "none")
    .attr("stroke", (d, i) => p.colors[i % p.colors.length])
    .attr("stroke-width", 1.1).attr("stroke-linejoin", "round");

  g.append("text").attr("x", p.tx).attr("y", p.ty).attr("text-anchor", "middle")
    .style("font-family", sansFont).style("font-weight", "bold").style("font-size", "8.5px").attr("fill", "#1a1a1a")
    .text(p.title);
  g.append("text").attr("transform", `translate(${p.mx},${p.my}) rotate(-90)`).attr("text-anchor", "middle")
    .attr("dy", "0.35em")
    .style("font-family", sansFont).style("font-weight", "bold").style("font-size", "9px").attr("fill", "#1a1a1a")
    .text("Magnitude");
  g.append("text").attr("x", p.dx).attr("y", p.dy).attr("text-anchor", "middle")
    .style("font-family", sansFont).style("font-weight", "bold").style("font-size", "10px").attr("fill", "#1a1a1a")
    .text("Distance (Å)");
  if (p.label) {
    g.append("text").attr("x", p.lx).attr("y", p.ly)
      .style("font-family", sansFont).style("font-weight", "bold").style("font-size", "12px").attr("fill", "#1a1a1a")
      .text(p.label);
  }
});
</script>
</body></html>
